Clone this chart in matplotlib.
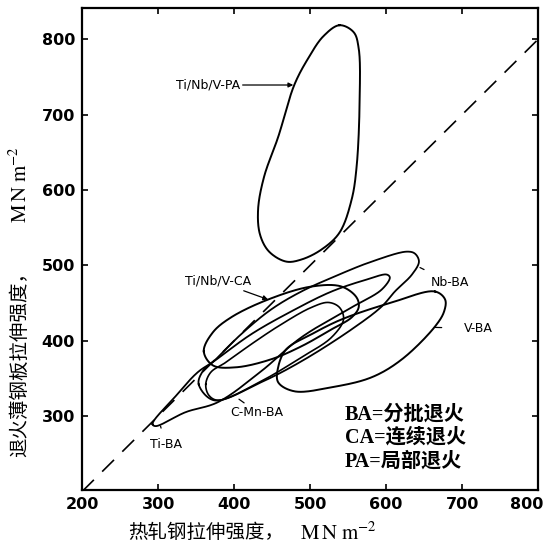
import numpy as np
import matplotlib
matplotlib.use("Agg")
import matplotlib.pyplot as plt

plt.rcParams['mathtext.fontset'] = 'stix'

# outlines of the strength regions (hot rolled, annealed), MN/m^2
pa_x = [538.6, 557.2, 563.8, 565.1, 561.1, 554.5, 538.6, 514.8, 488.4, 468.5, 446.0, 434.1, 431.5, 439.4, 458.0, 479.1, 497.6, 517.5]
pa_y = [818.5, 809.3, 788.1, 719.3, 630.7, 587.0, 543.4, 520.9, 507.7, 505.0, 518.2, 540.7, 573.8, 617.5, 670.4, 739.2, 774.9, 804.0]

ca_x = [360.1, 372.0, 395.8, 444.7, 501.6, 541.3, 561.1, 563.8, 554.5, 528.1, 488.4, 448.7, 402.4, 372.0]
ca_y = [386.0, 411.1, 430.9, 454.7, 471.9, 471.9, 457.4, 444.2, 430.9, 415.1, 392.6, 375.4, 364.8, 367.4]

nb_x = [353.4, 373.3, 435.5, 488.4, 554.5, 594.2, 611.4, 633.9, 643.1, 637.8, 627.3, 581.0, 532.0, 488.4, 448.7, 409.0, 375.9, 358.7]
nb_y = [342.3, 321.1, 345.0, 372.7, 415.1, 445.5, 465.3, 487.8, 505.0, 515.6, 518.2, 505.0, 485.2, 465.3, 441.5, 408.5, 375.4, 359.5]

cmn_x = [362.7, 366.7, 378.6, 435.5, 488.4, 528.1, 543.9, 538.6, 524.1, 501.6, 461.9, 422.2, 389.2, 369.3]
cmn_y = [342.3, 327.8, 321.1, 346.3, 378.0, 404.5, 428.3, 444.2, 450.8, 444.2, 421.7, 395.2, 371.4, 358.2]

ti_x = [292.6, 323.0, 352.1, 373.3, 422.2, 475.1, 528.1, 574.4, 600.8, 604.8, 594.2, 554.5, 488.4, 435.5, 378.6, 336.2, 296.6]
ti_y = [289.4, 326.4, 358.2, 372.7, 408.5, 438.9, 465.3, 481.2, 487.8, 483.9, 468.0, 444.2, 404.5, 359.5, 318.5, 305.3, 286.8]

v_x = [664.3, 677.5, 676.2, 664.3, 620.7, 581.0, 528.1, 479.1, 457.9, 457.9, 468.5, 501.6, 541.3, 607.4]
v_y = [465.3, 454.7, 438.9, 419.0, 375.4, 351.6, 338.3, 333.0, 345.0, 364.8, 388.6, 408.5, 428.3, 450.8]

x_ticks = [200, 300, 400, 500, 600, 700, 800]
y_ticks = [300, 400, 500, 600, 700, 800]
legend_lines = ["BA=分批退火", "CA=连续退火", "PA=局部退火"]


def closed_curve(xs, ys, n=24):
    # centripetal catmull-rom through the outline points, closed
    P = np.column_stack([xs, ys])
    m = len(P)
    out = []
    for i in range(m):
        p0, p1, p2, p3 = P[(i - 1) % m], P[i], P[(i + 1) % m], P[(i + 2) % m]
        t0 = 0.0
        t1 = t0 + np.linalg.norm(p1 - p0) ** 0.5
        t2 = t1 + np.linalg.norm(p2 - p1) ** 0.5
        t3 = t2 + np.linalg.norm(p3 - p2) ** 0.5
        t = np.linspace(t1, t2, n, endpoint=False)[:, None]
        a1 = (t1 - t) / (t1 - t0) * p0 + (t - t0) / (t1 - t0) * p1
        a2 = (t2 - t) / (t2 - t1) * p1 + (t - t1) / (t2 - t1) * p2
        a3 = (t3 - t) / (t3 - t2) * p2 + (t - t2) / (t3 - t2) * p3
        b1 = (t2 - t) / (t2 - t0) * a1 + (t - t0) / (t2 - t0) * a2
        b2 = (t3 - t) / (t3 - t1) * a2 + (t - t1) / (t3 - t1) * a3
        out.append((t2 - t) / (t2 - t1) * b1 + (t - t1) / (t2 - t1) * b2)
    out.append(P[:1])
    c = np.vstack(out)
    return c[:, 0], c[:, 1]


fig = plt.figure(figsize=(5.47, 5.5), dpi=100)
ax = fig.add_axes([0.150, 0.109, 0.834, 0.876])

# y = x reference line
ax.plot([200, 800], [200, 800], color='black', lw=1.2, linestyle=(0, (10, 7)))

for xs, ys, lw in [(pa_x, pa_y, 1.4), (ca_x, ca_y, 1.4), (nb_x, nb_y, 1.3),
                   (cmn_x, cmn_y, 1.2), (ti_x, ti_y, 1.3), (v_x, v_y, 1.4)]:
    cx, cy = closed_curve(xs, ys)
    ax.plot(cx, cy, color='black', lw=lw)

lab = dict(fontsize=9, family='DejaVu Sans', ha='center', va='center')
arw = dict(arrowstyle='-|>', color='black', lw=0.9, mutation_scale=7, shrinkA=0, shrinkB=0)

ax.annotate('Ti/Nb/V-PA', xy=(477.8, 739.2), xytext=(365.4, 739.2), arrowprops=arw, **lab)
ax.annotate('Ti/Nb/V-CA', xy=(444.7, 454.7), xytext=(378.6, 478.6), arrowprops=arw, **lab)
ax.annotate('Nb-BA', xy=(644.5, 497.1), xytext=(684.1, 477.2),
            arrowprops=dict(arrowstyle='-', color='black', lw=0.9, shrinkA=6, shrinkB=0), **lab)
ax.annotate('V-BA', xy=(664.3, 417.7), xytext=(721.2, 416.4),
            arrowprops=dict(arrowstyle='-', color='black', lw=0.9, shrinkA=14, shrinkB=0), **lab)
ax.annotate('C-Mn-BA', xy=(406.4, 322.5), xytext=(430.2, 305.3),
            arrowprops=dict(arrowstyle='-', color='black', lw=0.9, shrinkA=5, shrinkB=0), **lab)
ax.annotate('Ti-BA', xy=(303.2, 286.8), xytext=(309.8, 263.0),
            arrowprops=dict(arrowstyle='-', color='black', lw=0.9, shrinkA=5, shrinkB=0), **lab)

for i, s in enumerate(legend_lines):
    ax.text(546.0, 302.6 - i * 31.5, s, fontsize=14.5, fontweight='bold',
            family=['Liberation Serif', 'Noto Sans CJK SC'], ha='left', va='center')

ax.set_xlim(200, 800)
ax.set_ylim(202, 841)
ax.set_xticks(x_ticks)
ax.set_yticks(y_ticks)
# last x label drawn by hand so it stays inside the figure
ax.set_xticklabels([str(v) for v in x_ticks[:-1]] + [''])
ax.set_yticklabels([str(v) for v in y_ticks])
ax.tick_params(direction='in', length=4, width=1.2, top=True, right=True,
               labelsize=11.5, pad=5)
for t in ax.get_xticklabels() + ax.get_yticklabels():
    t.set_fontweight('bold')
ax.annotate(str(x_ticks[-1]), xy=(x_ticks[-1], 0), xycoords=('data', 'axes fraction'),
            xytext=(-8, -5), textcoords='offset points', ha='center', va='top',
            fontsize=11.5, fontweight='bold', annotation_clip=False)
for sp in ax.spines.values():
    sp.set_linewidth(1.6)

# axis titles: chinese part and unit part as separate texts
ax.text(0.272, -0.088, '热轧钢拉伸强度，', transform=ax.transAxes, fontsize=14,
        family='Noto Sans CJK SC', ha='center', va='center')
ax.text(0.561, -0.088, r'$\mathrm{M\,N\ m^{-2}}$', transform=ax.transAxes, fontsize=15,
        ha='center', va='center')
ax.text(-0.136, 0.271, '退火薄钢板拉伸强度，', transform=ax.transAxes, fontsize=14,
        family='Noto Sans CJK SC', ha='center', va='center', rotation=90)
ax.text(-0.136, 0.634, r'$\mathrm{M\,N\ m^{-2}}$', transform=ax.transAxes, fontsize=15,
        ha='center', va='center', rotation=90)

fig.savefig('out.png', dpi=100)
